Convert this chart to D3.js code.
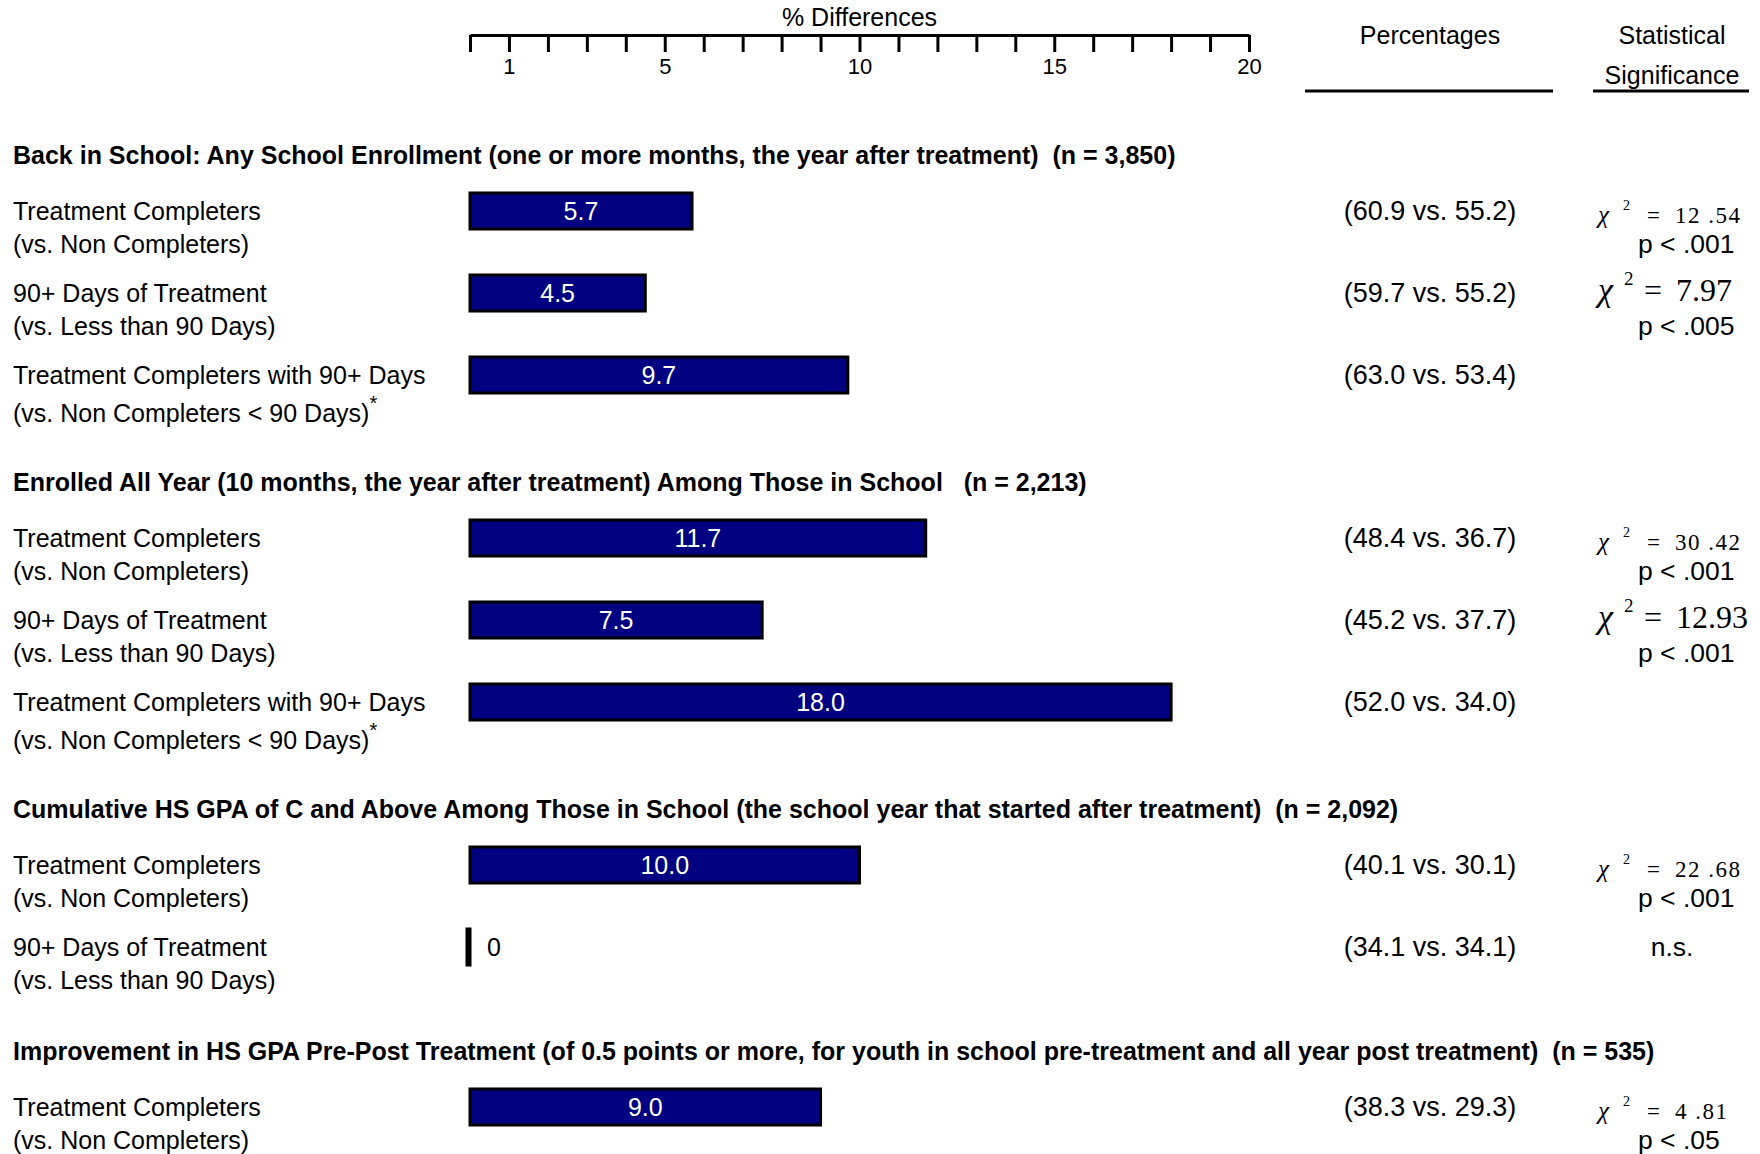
<!DOCTYPE html>
<html>
<head>
<meta charset="utf-8">
<script src="https://cdn.jsdelivr.net/npm/d3@7"></script>
<style>
  body { margin: 0; background: #fff; }
  svg text { font-family: "Liberation Sans", Arial, sans-serif; white-space: pre; }
  svg text.serif { font-family: "Liberation Serif", "Times New Roman", serif; }
</style>
</head>
<body>
<div class="chart"></div>
<script>
// data
var sectionTitles = [
  "Back in School: Any School Enrollment (one or more months, the year after treatment)  (n = 3,850)",
  "Enrolled All Year (10 months, the year after treatment) Among Those in School   (n = 2,213)",
  "Cumulative HS GPA of C and Above Among Those in School (the school year that started after treatment)  (n = 2,092)",
  "Improvement in HS GPA Pre-Post Treatment (of 0.5 points or more, for youth in school pre-treatment and all year post treatment)  (n = 535)"
];
var rowSection = [0, 0, 0, 1, 1, 1, 2, 2, 3];
var labelTop = [
  "Treatment Completers", "90+ Days of Treatment", "Treatment Completers with 90+ Days",
  "Treatment Completers", "90+ Days of Treatment", "Treatment Completers with 90+ Days",
  "Treatment Completers", "90+ Days of Treatment",
  "Treatment Completers"
];
var labelBottom = [
  "(vs. Non Completers)", "(vs. Less than 90 Days)", "(vs. Non Completers < 90 Days)",
  "(vs. Non Completers)", "(vs. Less than 90 Days)", "(vs. Non Completers < 90 Days)",
  "(vs. Non Completers)", "(vs. Less than 90 Days)",
  "(vs. Non Completers)"
];
var footnoteMark = ["", "", "*", "", "", "*", "", "", ""];
var diffValues = [5.7, 4.5, 9.7, 11.7, 7.5, 18.0, 10.0, 0, 9.0];
var pctGroup = [60.9, 59.7, 63.0, 48.4, 45.2, 52.0, 40.1, 34.1, 38.3];
var pctCompare = [55.2, 55.2, 53.4, 36.7, 37.7, 34.0, 30.1, 34.1, 29.3];
var chiValues = ["12 .54", "7.97", null, "30 .42", "12.93", null, "22 .68", null, "4 .81"];
var pValues = ["p < .001", "p < .005", null, "p < .001", "p < .001", null, "p < .001", "n.s.", "p < .05"];
var tickValues = d3.range(0, 21);
var tickLabels = [1, 5, 10, 15, 20];

var svgW = 1760, svgH = 1154;
var navy = "#000080";

var svg = d3.select(".chart").append("svg")
  .attr("width", svgW)
  .attr("height", svgH);

var x = d3.scaleLinear().domain([0, 20]).range([470, 1249]);

// top axis
svg.append("text")
  .attr("x", x(10)).attr("y", 17)
  .attr("dominant-baseline", "central")
  .attr("text-anchor", "middle")
  .attr("font-size", 25)
  .text("% Differences");

var axis = d3.axisBottom(x)
  .tickValues(tickValues)
  .tickSize(17)
  .tickSizeOuter(0)
  .tickPadding(6)
  .tickFormat(function(d) { return tickLabels.indexOf(d) >= 0 ? d : ""; });

var axisG = svg.append("g")
  .attr("transform", "translate(0,35)")
  .call(axis);
axisG.select(".domain").attr("stroke", "#000").attr("stroke-width", 3);
axisG.selectAll(".tick line").attr("stroke", "#000").attr("stroke-width", 3);
axisG.selectAll(".tick text")
  .attr("fill", "#000")
  .attr("font-size", 22)
  .attr("font-family", "Liberation Sans, Arial, sans-serif");

// column headers
svg.append("text")
  .attr("x", 1430).attr("y", 35)
  .attr("dominant-baseline", "central").attr("text-anchor", "middle")
  .attr("font-size", 25).text("Percentages");
svg.append("text")
  .attr("x", 1672).attr("y", 35)
  .attr("dominant-baseline", "central").attr("text-anchor", "middle")
  .attr("font-size", 25).text("Statistical");
svg.append("text")
  .attr("x", 1672).attr("y", 75)
  .attr("dominant-baseline", "central").attr("text-anchor", "middle")
  .attr("font-size", 25).text("Significance");
svg.append("line")
  .attr("x1", 1305).attr("x2", 1553).attr("y1", 91).attr("y2", 91)
  .attr("stroke", "#000").attr("stroke-width", 3);
svg.append("line")
  .attr("x1", 1593).attr("x2", 1749).attr("y1", 91).attr("y2", 91)
  .attr("stroke", "#000").attr("stroke-width", 3);

// vertical layout: section titles and rows
var titleY = [], rowY = [];
var y = 155;
sectionTitles.forEach(function(t, s) {
  titleY.push(y);
  var cur = y + 56;
  var last = -1;
  rowSection.forEach(function(sec, i) {
    if (sec === s) { rowY[i] = cur; cur += 82; last = i; }
  });
  // rows ending with a footnote mark take a little more room
  y = cur - 82 + 104 + (footnoteMark[last] ? 3 : 0);
});

svg.selectAll(".secTitle")
  .data(sectionTitles)
  .enter().append("text")
  .attr("class", "secTitle")
  .attr("x", 13)
  .attr("y", function(d, i) { return titleY[i]; })
  .attr("dominant-baseline", "central")
  .attr("font-size", 25)
  .attr("font-weight", "bold")
  .text(function(d) { return d; });

var rows = svg.selectAll(".row")
  .data(diffValues)
  .enter().append("g")
  .attr("class", "row")
  .attr("transform", function(d, i) { return "translate(0," + rowY[i] + ")"; });

rows.append("text")
  .attr("x", 13).attr("y", 0)
  .attr("dominant-baseline", "central")
  .attr("font-size", 25)
  .text(function(d, i) { return labelTop[i]; });

var bottomText = rows.append("text")
  .attr("x", 13)
  .attr("y", function(d, i) { return footnoteMark[i] ? 38 : 33; })
  .attr("dominant-baseline", "central")
  .attr("font-size", 25);
bottomText.append("tspan")
  .text(function(d, i) { return labelBottom[i]; });
bottomText.append("tspan")
  .attr("dy", -10)
  .attr("font-size", 20)
  .text(function(d, i) { return footnoteMark[i]; });

// bars
var barH = 36;
rows.append("rect")
  .attr("x", function(d) { return d > 0 ? x(0) : x(0) - 3; })
  .attr("y", -barH / 2)
  .attr("width", function(d) { return d > 0 ? x(d) - x(0) : 3; })
  .attr("height", barH)
  .attr("fill", function(d) { return d > 0 ? navy : "#000"; })
  .attr("stroke", "#000")
  .attr("stroke-width", 3);

rows.append("text")
  .attr("x", function(d) { return d > 0 ? (x(0) + x(d)) / 2 : x(0) + 24; })
  .attr("y", 0)
  .attr("dominant-baseline", "central")
  .attr("text-anchor", "middle")
  .attr("font-size", 25)
  .attr("fill", function(d) { return d > 0 ? "#fff" : "#000"; })
  .text(function(d) { return d > 0 ? d3.format(".1f")(d) : "0"; });

// percentages
rows.append("text")
  .attr("x", 1430).attr("y", 0)
  .attr("dominant-baseline", "central")
  .attr("text-anchor", "middle")
  .attr("font-size", 27)
  .text(function(d, i) {
    return "(" + pctGroup[i].toFixed(1) + " vs. " + pctCompare[i].toFixed(1) + ")";
  });

// chi square, two typeset styles as in the source
var bigChi = [1, 4];
rows.each(function(d, i) {
  if (chiValues[i] === null) return;
  var g = d3.select(this);
  var big = bigChi.indexOf(i) >= 0;
  var base = big ? 8 : 12;
  g.append("text").attr("class", "serif")
    .attr("x", 1598).attr("y", base)
    .attr("font-size", big ? 34 : 25)
    .attr("font-style", "italic")
    .text("χ");
  g.append("text").attr("class", "serif")
    .attr("x", big ? 1624 : 1623).attr("y", big ? -8 : -1)
    .attr("font-size", big ? 19 : 14)
    .text("2");
  g.append("text").attr("class", "serif")
    .attr("x", big ? 1644 : 1647).attr("y", base)
    .attr("font-size", big ? 32 : 23)
    .text("=");
  g.append("text").attr("class", "serif")
    .attr("x", big ? 1676 : 1675).attr("y", base)
    .attr("font-size", big ? 32 : 23)
    .attr("letter-spacing", big ? 0 : 1.5)
    .text(chiValues[i]);
});

rows.each(function(d, i) {
  if (pValues[i] === null) return;
  var alone = chiValues[i] === null;
  d3.select(this).append("text")
    .attr("x", alone ? 1672 : 1638)
    .attr("y", alone ? 0 : 33)
    .attr("dominant-baseline", "central")
    .attr("text-anchor", alone ? "middle" : "start")
    .attr("font-size", 26.5)
    .text(pValues[i]);
});
</script>
</body>
</html>
